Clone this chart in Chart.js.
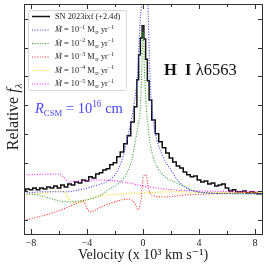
<!DOCTYPE html>
<html>
<head>
<meta charset="utf-8">
<script src="https://cdn.jsdelivr.net/npm/chart.js@4.4.1/dist/chart.umd.min.js"></script>
<style>
  html, body { margin: 0; padding: 0; background: #fff; }
  #wrap { width: 266px; height: 267px; }
</style>
</head>
<body>
<div id="wrap"><canvas id="chart"></canvas></div>
<script>
// observed spectrum, SN 2023ixf (+2.4d)
const obsVel = [-8.5, -8.25, -8, -7.75, -7.5, -7.25, -7, -6.75, -6.5, -6.25, -6, -5.75, -5.5, -5.25, -5, -4.75, -4.5, -4.25, -4, -3.75, -3.5, -3.25, -3, -2.75, -2.5, -2.25, -2, -1.75, -1.5, -1.25, -1, -0.75, -0.5, -0.375, -0.25, -0.125, 0, 0.125, 0.25, 0.375, 0.5, 0.75, 1, 1.25, 1.5, 1.75, 2, 2.25, 2.5, 2.75, 3, 3.25, 3.5, 3.75, 4, 4.25, 4.5, 4.75, 5, 5.25, 5.5, 5.75, 6, 6.25, 6.5, 6.75, 7, 7.25, 7.5, 7.75, 8, 8.25, 8.5];
const obsFlux = [1.01, 1.08, 1.05, 1.11, 1.05, 1.11, 1.08, 1.15, 1.11, 1.18, 1.11, 1.22, 1.15, 1.25, 1.22, 1.32, 1.29, 1.39, 1.36, 1.50, 1.46, 1.60, 1.64, 1.74, 1.78, 1.92, 1.99, 2.20, 2.37, 2.65, 2.93, 3.41, 3.94, 4.88, 5.75, 6.34, 6.76, 6.30, 5.60, 4.85, 4.18, 3.48, 3.00, 2.72, 2.51, 2.33, 2.16, 2.02, 1.88, 1.81, 1.67, 1.57, 1.50, 1.53, 1.39, 1.32, 1.36, 1.25, 1.29, 1.18, 1.22, 1.25, 1.11, 1.01, 1.05, 0.98, 0.98, 1.01, 0.94, 0.98, 0.94, 0.91, 0.91];

// models, R_CSM = 1e16 cm
const mdot1Vel = [-8.5, -7, -5.5, -4.5, -4, -3.5, -3, -2.4, -2, -1.5, -1.14, -0.9, -0.7, -0.5, -0.4, -0.2, -0.1, 0.12, 0.35, 0.5, 0.65, 0.85, 1.43, 2, 2.36, 2.64, 3, 3.36, 4, 4.6, 6, 8.5];
const mdot1Flux = [0.94, 0.98, 0.98, 1.05, 1.11, 1.18, 1.25, 1.39, 1.57, 2.09, 2.79, 3.31, 3.83, 4.53, 4.98, 6.97, 7.6, 11.0, 7.6, 4.98, 3.83, 3.10, 2.20, 1.74, 1.46, 1.29, 1.15, 1.05, 0.98, 0.94, 0.91, 0.91];

const mdot2Vel = [-8.5, -7.5, -6.5, -5.5, -4.5, -3.5, -3, -2.4, -2, -1.5, -1.14, -0.8, -0.57, -0.35, -0.2, -0.1, 0, 0.12, 0.25, 0.35, 0.5, 0.75, 1, 1.5, 2.4, 3.2, 3.6, 4.6, 8.5];
const mdot2Flux = [0.91, 0.87, 0.73, 0.63, 0.66, 0.77, 0.87, 1.08, 1.18, 1.39, 1.64, 2.09, 2.68, 3.31, 3.83, 4.98, 6.55, 4.98, 3.83, 3.31, 2.68, 2.16, 1.85, 1.53, 1.29, 1.11, 1.01, 0.94, 0.91];

const mdot3Vel = [-8.5, -7.5, -6.5, -5.5, -4.8, -4.3, -3.8, -3, -2, -1, -0.6, -0.35, -0.15, 0.05, 0.2, 0.35, 0.5, 0.8, 1.5, 3, 5, 8.5];
const mdot3Flux = [0.0, 0.10, 0.24, 0.42, 0.56, 0.66, 0.28, 0.45, 0.63, 0.73, 0.59, 0.35, 0.70, 1.53, 1.57, 1.22, 0.94, 0.84, 0.80, 0.87, 0.91, 0.98];

const mdot4Vel = [-8.5, -7, -6, -5.6, -5.2, -4.6, -4, -3, -1.5, 0, 2, 4, 8.5];
const mdot4Flux = [0.87, 0.94, 1.01, 0.98, 0.66, 0.59, 0.70, 0.84, 0.91, 0.94, 0.98, 0.96, 0.94];

const mdot5Vel = [-8.5, -6, -5.6, -5.3, -4.5, -3, -2, -1, 0, 1, 2, 4, 8.5];
const mdot5Flux = [1.57, 1.60, 1.46, 1.32, 1.36, 1.39, 1.36, 1.29, 1.18, 1.11, 1.05, 1.01, 0.98];

const mdotExp = ['1', '2', '3', '4', '5'];
const modelColors = ['#3a3aff', '#2ca02c', '#ff2a2a', '#ffd700', '#ff22ff'];

const xTickLabels = [-8, -4, 0, 4, 8];
const serif = '"Liberation Serif", "DejaVu Serif", serif';

function pts(xs, ys) {
    return xs.map((x, i) => ({ x: x, y: ys[i] }));
}

const modelSeries = [
    [mdot1Vel, mdot1Flux], [mdot2Vel, mdot2Flux], [mdot3Vel, mdot3Flux],
    [mdot4Vel, mdot4Flux], [mdot5Vel, mdot5Flux]
];

const datasets = modelSeries.map((s, i) => ({
    label: 'M = 10^-' + mdotExp[i],
    data: pts(s[0], s[1]),
    borderColor: modelColors[i],
    borderWidth: 1.1,
    borderDash: [1, 1.6],
    pointRadius: 0,
    cubicInterpolationMode: 'monotone',
    fill: false
}));
datasets.push({
    label: 'SN 2023ixf (+2.4d)',
    data: pts(obsVel, obsFlux),
    borderColor: '#111',
    borderWidth: 1.5,
    stepped: 'middle',
    pointRadius: 0,
    fill: false
});

function drawRich(ctx, x, y, parts, size) {
    parts.forEach(p => {
        const s = size * (p.scale || 1);
        ctx.font = `${p.style || ''} ${s}px ${serif}`;
        ctx.fillText(p.t, x, y + (p.dy || 0) * size);
        x += ctx.measureText(p.t).width;
    });
    return x;
}

function richWidth(ctx, parts, size) {
    let w = 0;
    parts.forEach(p => {
        ctx.font = `${p.style || ''} ${size * (p.scale || 1)}px ${serif}`;
        w += ctx.measureText(p.t).width;
    });
    return w;
}

function mdotParts(exp) {
    return [
        { t: '\u1E40', style: 'italic' },
        { t: ' = 10' },
        { t: '\u2212' + exp, scale: 0.7, dy: -0.4 },
        { t: ' M' },
        { t: '\u2299', scale: 0.6, dy: 0.25 },
        { t: ' yr' },
        { t: '\u22121', scale: 0.7, dy: -0.4 }
    ];
}

// inward ticks on all four sides + frame
const framePlugin = {
    id: 'frame',
    afterDatasetsDraw(chart) {
        const { ctx, chartArea: a, scales } = chart;
        ctx.save();
        ctx.strokeStyle = '#333';
        ctx.lineWidth = 1;
        ctx.beginPath();
        for (let v = -8; v <= 8; v += 2) {
            const px = Math.round(scales.x.getPixelForValue(v)) + 0.5;
            const len = v % 4 === 0 ? 5 : 3;
            ctx.moveTo(px, a.bottom); ctx.lineTo(px, a.bottom - len);
            ctx.moveTo(px, a.top); ctx.lineTo(px, a.top + len);
        }
        for (let v = 0; v <= 7; v += 1) {
            const py = Math.round(scales.y.getPixelForValue(v)) + 0.5;
            ctx.moveTo(a.left, py); ctx.lineTo(a.left + 4, py);
            ctx.moveTo(a.right, py); ctx.lineTo(a.right - 4, py);
        }
        ctx.stroke();
        ctx.strokeRect(Math.round(a.left) + 0.5, Math.round(a.top) + 0.5,
            Math.round(a.right - a.left), Math.round(a.bottom - a.top));
        ctx.restore();
    }
};

const textPlugin = {
    id: 'texts',
    afterDraw(chart) {
        const { ctx, chartArea: a } = chart;
        ctx.save();
        ctx.textBaseline = 'alphabetic';

        // legend
        const lx = 28, ly = 10, lw = 98, lh = 80;
        ctx.fillStyle = 'rgba(255,255,255,0.85)';
        ctx.strokeStyle = '#d6d6d6';
        ctx.lineWidth = 1;
        ctx.beginPath();
        ctx.roundRect(lx + 0.5, ly + 0.5, lw, lh, 2);
        ctx.fill();
        ctx.stroke();

        const rows = [5, 0, 1, 2, 3, 4];
        rows.forEach((di, r) => {
            const ds = chart.data.datasets[di];
            const y = 16 + r * 13.5;
            ctx.save();
            ctx.strokeStyle = ds.borderColor;
            ctx.lineWidth = di === 5 ? 1.5 : 1.1;
            ctx.setLineDash(ds.borderDash || []);
            ctx.beginPath();
            ctx.moveTo(32, y + 0.5); ctx.lineTo(50, y + 0.5);
            ctx.stroke();
            ctx.restore();
            ctx.fillStyle = '#222';
            if (di === 5) {
                drawRich(ctx, 55, y + 2.8, [{ t: ds.label }], 8.3);
            } else {
                drawRich(ctx, 55, y + 2.8, mdotParts(mdotExp[di]), 8.3);
            }
        });

        // line label
        ctx.fillStyle = '#111';
        drawRich(ctx, 164, 75, [
            { t: 'H\u2002I', style: 'bold' },
            { t: ' \u03BB6563' }
        ], 16.5);

        // CSM radius
        ctx.fillStyle = '#4646ff';
        drawRich(ctx, 35, 113, [
            { t: 'R', style: 'italic' },
            { t: 'CSM', scale: 0.6, dy: 0.2 },
            { t: ' = 10' },
            { t: '16', scale: 0.65, dy: -0.4 },
            { t: ' cm' }
        ], 14.5);

        // y title
        const yParts = [
            { t: 'Relative ' },
            { t: 'f', style: 'italic' },
            { t: '\u03BB', style: 'italic', scale: 0.65, dy: 0.25 }
        ];
        const ysize = 16;
        const w = richWidth(ctx, yParts, ysize);
        ctx.translate(18, (a.top + a.bottom) / 2 - 2);
        ctx.rotate(-Math.PI / 2);
        ctx.fillStyle = '#222';
        drawRich(ctx, -w / 2, 0, yParts, ysize);
        ctx.restore();
    }
};

new Chart(document.getElementById('chart'), {
    type: 'line',
    data: { datasets: datasets },
    options: {
        responsive: true,
        maintainAspectRatio: false,
        animation: false,
        layout: { padding: { top: 4, right: 4, left: 0, bottom: 0 } },
        plugins: {
            legend: { display: false },
            tooltip: { enabled: false }
        },
        scales: {
            x: {
                type: 'linear',
                min: -8.5,
                max: 8.5,
                grid: { display: false, drawTicks: false },
                border: { display: false },
                ticks: {
                    stepSize: 4,
                    includeBounds: false,
                    padding: 3,
                    color: '#222',
                    font: { family: serif, size: 10 },
                    callback: v => xTickLabels.includes(v) ? String(v).replace('-', '\u2212') : ''
                },
                title: {
                    display: true,
                    text: 'Velocity (x 10\u00B3 km s\u207B\u00B9)',
                    color: '#222',
                    font: { family: serif, size: 14 },
                    padding: { top: 0, bottom: 3 }
                },
                afterFit: s => { s.height = 33; }
            },
            y: {
                type: 'linear',
                min: -0.49,
                max: 7.52,
                grid: { display: false, drawTicks: false },
                border: { display: false },
                ticks: { display: false },
                afterFit: s => { s.width = 24; }
            }
        }
    },
    plugins: [framePlugin, textPlugin]
});
</script>
</body>
</html>
